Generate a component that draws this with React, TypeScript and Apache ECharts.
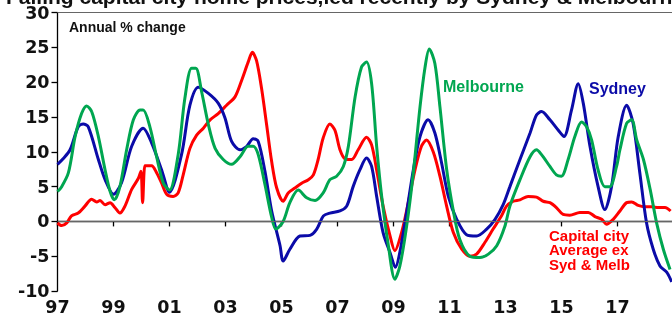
import React, { useEffect, useRef } from "react";
import * as echarts from "echarts";

const sydneyYears = [
  1997.0, 1997.2, 1997.45, 1997.74, 1997.92, 1998.1, 1998.46, 1998.7, 1999.0, 1999.29, 1999.65, 2000.06,
  2000.36, 2000.72, 2001.0, 2001.43, 2001.73, 2002.03, 2002.39, 2002.74, 2002.98, 2003.22, 2003.52, 2003.76,
  2003.99, 2004.17, 2004.41, 2004.65, 2004.95, 2005.06, 2005.3, 2005.66, 2006.02, 2006.26, 2006.5, 2006.73,
  2007.09, 2007.33, 2007.56, 2007.8, 2008.04, 2008.22, 2008.4, 2008.63, 2008.88, 2009.07, 2009.23, 2009.47,
  2009.71, 2009.95, 2010.24, 2010.48, 2010.72, 2010.96, 2011.26, 2011.61, 2011.97, 2012.33, 2012.63, 2012.92,
  2013.16, 2013.52, 2013.88, 2014.11, 2014.29, 2014.59, 2014.89, 2015.09, 2015.36, 2015.6, 2015.78, 2016.02,
  2016.31, 2016.55, 2016.79, 2017.03, 2017.33, 2017.56, 2017.8, 2018.04, 2018.28, 2018.52, 2018.76, 2018.94,
];
const sydneyValues = [
  8.2, 9.0, 10.3, 13.6, 14.0, 13.6, 8.9, 6.0, 3.9, 5.6, 10.8, 13.4,
  11.3, 7.4, 4.2, 9.6, 16.7, 19.3, 18.4, 17.0, 14.9, 11.5, 10.3, 10.8,
  11.9, 11.5, 7.2, 1.5, -3.5, -5.7, -4.0, -2.1, -2.0, -1.1, 0.8, 1.2,
  1.5, 2.2, 5.0, 7.4, 9.1, 7.9, 3.6, -1.6, -4.5, -6.6, -4.4, 1.3,
  7.4, 12.2, 14.6, 12.7, 8.4, 3.6, 0.3, -1.9, -2.1, -1.1, 0.3, 2.4,
  5.0, 8.9, 12.7, 15.3, 15.8, 14.6, 13.1, 12.2, 16.0, 19.8, 17.0, 10.8,
  5.0, 1.7, 5.0, 12.2, 16.7, 14.1, 7.0, -0.2, -4.0, -6.4, -7.3, -8.7,
];

const melbourneYears = [
  1997.0, 1997.15, 1997.39, 1997.63, 1997.86, 1998.04, 1998.22, 1998.46, 1998.7, 1998.88, 1999.03, 1999.23,
  1999.47, 1999.71, 1999.95, 2000.06, 2000.3, 2000.54, 2000.78, 2001.0, 2001.31, 2001.55, 2001.79, 2001.94,
  2002.15, 2002.39, 2002.63, 2002.92, 2003.22, 2003.52, 2003.81, 2003.99, 2004.17, 2004.41, 2004.65, 2004.8,
  2005.06, 2005.3, 2005.6, 2005.9, 2006.2, 2006.49, 2006.73, 2006.97, 2007.21, 2007.39, 2007.63, 2007.86,
  2008.04, 2008.22, 2008.4, 2008.58, 2008.82, 2009.05, 2009.23, 2009.47, 2009.71, 2009.95, 2010.13, 2010.28,
  2010.48, 2010.66, 2010.9, 2011.14, 2011.37, 2011.73, 2012.09, 2012.39, 2012.69, 2012.98, 2013.16, 2013.52,
  2013.88, 2014.11, 2014.29, 2014.59, 2014.82, 2015.0, 2015.24, 2015.48, 2015.72, 2015.9, 2016.08, 2016.31,
  2016.55, 2016.73, 2016.97, 2017.09, 2017.33, 2017.51, 2017.69, 2017.93, 2018.17, 2018.4, 2018.64, 2018.88,
];
const melbourneValues = [
  4.3, 5.0, 7.0, 12.2, 15.5, 16.6, 15.8, 12.2, 7.4, 4.3, 3.1, 5.0,
  10.3, 14.6, 16.0, 16.0, 13.6, 9.3, 5.5, 4.5, 9.6, 17.7, 22.0, 22.0,
  18.6, 13.9, 10.5, 8.9, 8.2, 9.3, 10.8, 10.8, 9.6, 5.3, 0.6, -1.1,
  0.0, 2.7, 4.5, 3.4, 3.0, 4.1, 6.0, 6.5, 7.9, 10.8, 17.9, 22.2,
  22.9, 19.8, 10.8, 3.6, -3.5, -8.3, -6.4, -0.7, 7.0, 16.5, 22.2, 24.8,
  22.7, 16.5, 7.5, 1.5, -2.6, -5.0, -5.2, -4.7, -3.5, -0.7, 2.2, 6.0,
  9.3, 10.3, 9.6, 7.9, 6.7, 6.5, 8.9, 12.2, 14.3, 13.6, 11.7, 7.4,
  5.0, 5.0, 7.9, 10.3, 14.1, 14.6, 11.7, 8.9, 4.6, -0.2, -4.0, -6.9,
];

const capitalYears = [
  1997.0, 1997.15, 1997.33, 1997.5, 1997.74, 1997.98, 1998.22, 1998.4, 1998.52, 1998.7, 1998.88, 1999.05,
  1999.23, 1999.41, 1999.65, 1999.89, 1999.98, 2000.04, 2000.12, 2000.19, 2000.36, 2000.54, 2000.72, 2000.9,
  2001.13, 2001.31, 2001.49, 2001.73, 2001.97, 2002.21, 2002.45, 2002.74, 2003.04, 2003.34, 2003.58, 2003.81,
  2003.96, 2004.11, 2004.29, 2004.47, 2004.65, 2004.83, 2005.06, 2005.24, 2005.48, 2005.72, 2005.96, 2006.14,
  2006.31, 2006.49, 2006.73, 2006.91, 2007.09, 2007.27, 2007.51, 2007.74, 2008.04, 2008.22, 2008.4, 2008.63,
  2008.88, 2009.05, 2009.29, 2009.53, 2009.77, 2010.0, 2010.18, 2010.42, 2010.66, 2010.9, 2011.14, 2011.44,
  2011.73, 2011.97, 2012.27, 2012.56, 2012.86, 2013.04, 2013.28, 2013.52, 2013.81, 2014.11, 2014.35, 2014.59,
  2014.82, 2015.06, 2015.3, 2015.66, 2015.96, 2016.2, 2016.44, 2016.61, 2016.85, 2017.09, 2017.33, 2017.51,
  2017.74, 2017.98, 2018.22, 2018.46, 2018.7, 2018.9,
];
const capitalValues = [
  -0.2, -0.6, -0.2, 0.8, 1.2, 2.2, 3.2, 2.8, 3.0, 2.4, 2.7, 2.0,
  1.2, 2.2, 4.6, 6.2, 7.2, 2.7, 8.0, 8.0, 8.0, 7.0, 5.5, 3.9,
  3.6, 4.1, 6.7, 10.5, 12.4, 13.4, 14.6, 15.5, 16.7, 17.9, 20.3, 22.9,
  24.3, 23.1, 19.1, 13.9, 8.6, 4.8, 2.9, 4.1, 4.8, 5.5, 6.0, 6.7,
  8.9, 12.0, 14.0, 13.1, 10.3, 9.0, 8.9, 10.3, 12.1, 11.0, 7.4, 2.2,
  -2.1, -4.2, -1.6, 2.7, 7.4, 10.8, 11.7, 10.0, 6.5, 2.2, -1.6, -4.0,
  -5.0, -4.7, -3.0, -1.1, 0.8, 2.2, 2.9, 3.1, 3.6, 3.5, 2.9, 2.7,
  2.0, 1.0, 0.9, 1.3, 1.3, 0.7, 0.3, -0.4, 0.3, 1.5, 2.7, 2.8,
  2.3, 2.1, 2.1, 2.0, 2.0, 1.5,
];

const xTickYears = [1997, 1999, 2001, 2003, 2005, 2007, 2009, 2011, 2013, 2015, 2017];
const xTickLabels = ["97", "99", "01", "03", "05", "07", "09", "11", "13", "15", "17"];

const titleText = "Falling capital city home prices,led recently by Sydney & Melbourne";
const unitText = "Annual % change";
const capitalLabelLines = ["Capital city", "Average ex", "Syd & Melb"];

const BLUE = "#0b0ba8";
const GREEN = "#00a650";
const RED = "#ff0000";
const FONT = "Liberation Sans, Arial, sans-serif";
const AXIS_FONT = "DejaVu Sans, sans-serif";

const pairs = (xs: number[], ys: number[]) => xs.map((x, i) => [x, ys[i]]);

export default function App() {
  const ref = useRef<HTMLDivElement>(null);
  useEffect(() => {
    const chart = echarts.init(ref.current!, null, { renderer: "svg" });
    const lineSeries = (name: string, color: string, data: number[][], extra: any = {}) => ({
      name,
      type: "line",
      data,
      showSymbol: false,
      smooth: 0.3,
      lineStyle: { color, width: 3 },
      itemStyle: { color },
      ...extra,
    });
    chart.setOption({
      animation: false,
      grid: { left: 57.5, right: 0, top: 12.7, bottom: 24.3 },
      xAxis: {
        type: "value",
        min: 1997,
        max: 2018.95,
        splitLine: { show: false },
        axisLine: { show: true, lineStyle: { color: "#000", width: 1.3 } },
        axisTick: { show: true, length: 5, lineStyle: { color: "#000", width: 1.3 }, customValues: xTickYears },
        axisLabel: {
          customValues: xTickYears,
          formatter: (v: number) => {
            const i = xTickYears.indexOf(Math.round(v));
            return i >= 0 ? xTickLabels[i] : "";
          },
          fontFamily: AXIS_FONT,
          fontWeight: "bold",
          fontSize: 17.5,
          color: "#111",
          margin: 7,
        },
      },
      yAxis: {
        type: "value",
        min: -10,
        max: 30,
        interval: 5,
        splitLine: { show: false },
        axisLine: { show: true, lineStyle: { color: "#000", width: 1.3 } },
        axisTick: { show: true, length: 6, lineStyle: { color: "#000", width: 1.3 } },
        axisLabel: {
          fontFamily: AXIS_FONT,
          fontWeight: "bold",
          fontSize: 17.5,
          color: "#111",
          margin: 8,
        },
      },
      series: [
        lineSeries("Capital city Average ex Syd & Melb", RED, pairs(capitalYears, capitalValues), {
          markLine: {
            silent: true,
            symbol: "none",
            label: { show: false },
            lineStyle: { color: "#666", width: 1, type: "solid" },
            data: [{ yAxis: 0 }, { yAxis: 30 }],
          },
        }),
        lineSeries("Sydney", BLUE, pairs(sydneyYears, sydneyValues)),
        lineSeries("Melbourne", GREEN, pairs(melbourneYears, melbourneValues)),
      ],
      graphic: [
        {
          type: "text",
          x: 6,
          y: -3.5,
          style: { text: titleText, fill: "#111", font: `bold 21px ${FONT}`, verticalAlign: "middle" },
        },
        {
          type: "text",
          x: 69,
          y: 26.7,
          style: { text: unitText, fill: "#111", font: `bold 14px ${FONT}`, verticalAlign: "middle" },
        },
        {
          type: "text",
          x: 443,
          y: 86,
          style: { text: "Melbourne", fill: GREEN, font: `bold 16px ${FONT}`, verticalAlign: "middle" },
        },
        {
          type: "text",
          x: 589,
          y: 88,
          style: { text: "Sydney", fill: BLUE, font: `bold 16px ${FONT}`, verticalAlign: "middle" },
        },
        ...capitalLabelLines.map((t, i) => ({
          type: "text",
          x: 549,
          y: 235 + i * 14.8,
          style: { text: t, fill: RED, font: `bold 15px ${FONT}`, verticalAlign: "middle" },
        })),
      ],
    });
    return () => chart.dispose();
  }, []);
  return <div ref={ref} style={{ position: "fixed", left: 0, top: 0, width: 672, height: 316 }} />;
}
